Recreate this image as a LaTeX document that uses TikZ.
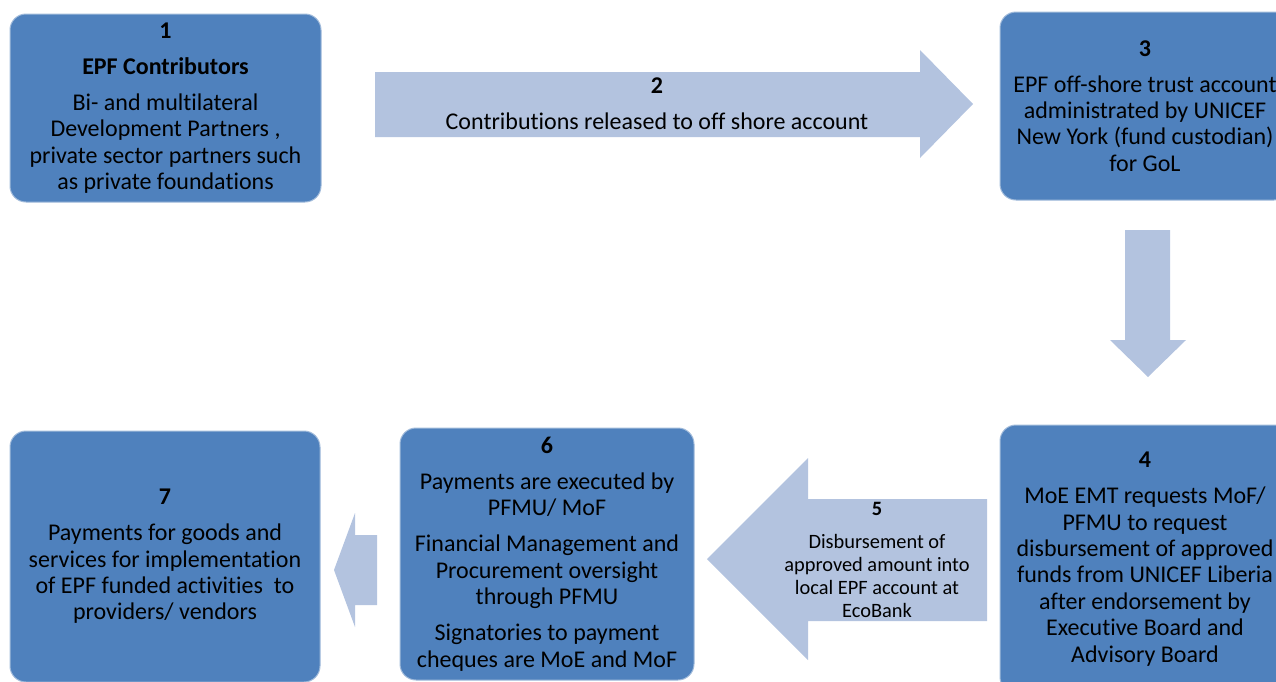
\documentclass[tikz,border=0pt]{standalone}
\usepackage{fontspec}
\setmainfont[Ligatures=NoCommon]{Carlito}
\usetikzlibrary{positioning}
\definecolor{BoxBlue}{RGB}{79,129,189}
\definecolor{EdgeBlue}{RGB}{160,186,218}
\definecolor{ArrowBlue}{RGB}{179,195,223}
\tikzset{
  stepbox/.style={draw=EdgeBlue,line width=0.5pt,fill=BoxBlue,rounded corners=8pt,
    align=center,inner sep=0pt,font=\fontsize{12}{13.2}\selectfont},
  flow/.style={fill=ArrowBlue},
  flowlabel/.style={align=center,inner sep=0pt,font=\fontsize{12}{13.2}\selectfont},
  smalllabel/.style={align=center,inner sep=0pt,font=\fontsize{10.2}{11.5}\selectfont}
}

\begin{document}
\begin{tikzpicture}[x=0.5pt,y=-0.5pt]
  \useasboundingbox (0,0) rectangle (1276,681);

  \node[stepbox,minimum width=155.5pt,minimum height=94pt] (contrib) at (165.5,108)
    {\textbf{1}\\[4.8pt]\textbf{EPF Contributors}\\[4.8pt]Bi- and multilateral\\Development Partners ,\\private sector partners such\\as private foundations};
  \node[stepbox,minimum width=145pt,minimum height=94pt] (trust) at (1145,106)
    {\textbf{3}\\[4.8pt]EPF off-shore trust account\\administrated by UNICEF\\New York (fund custodian)\\for GoL};
  \node[stepbox,minimum width=145pt,minimum height=134pt] (request) at (1145,559)
    {\textbf{4}\\[4.8pt]MoE EMT requests MoF/\\PFMU to request\\disbursement of approved\\funds from UNICEF Liberia\\after endorsement by\\Executive Board and\\Advisory Board};
  \node[stepbox,minimum width=147pt,minimum height=126pt] (payment) at (547,554)
    {\textbf{6}\\[4.8pt]Payments are executed by\\PFMU/ MoF\\[4.8pt]Financial Management and\\Procurement oversight\\through PFMU\\[4.8pt]Signatories to payment\\cheques are MoE and MoF};
  \node[stepbox,minimum width=155pt,minimum height=125.5pt] (vendor) at (165,556.5)
    {\textbf{7}\\[4.8pt]Payments for goods and\\services for implementation\\of EPF funded activities\ \ to\\providers/ vendors};

  \fill[flow] (375,72) -- (920,72) -- (920,50) -- (973,104) -- (920,158) -- (920,137) -- (375,137) -- cycle;
  \node[flowlabel] (release) at (657,104) {\textbf{2}\\[4.8pt]Contributions released to off shore account};

  \fill[flow] (1125,230) -- (1170,230) -- (1170,340) -- (1186,340) -- (1148,377) -- (1110,340) -- (1125,340) -- cycle;

  \fill[flow] (987,499) -- (808,499) -- (808,458) -- (707,559) -- (808,660) -- (808,621) -- (987,621) -- cycle;
  \node[smalllabel] (disburse) at (877,560) {\textbf{5}\\[5pt]Disbursement of\\approved amount into\\local EPF account at\\EcoBank};

  \fill[flow] (377,535) -- (355,535) -- (355,513) -- (334,570) -- (355,627) -- (355,605) -- (377,605) -- cycle;
\end{tikzpicture}
\end{document}
